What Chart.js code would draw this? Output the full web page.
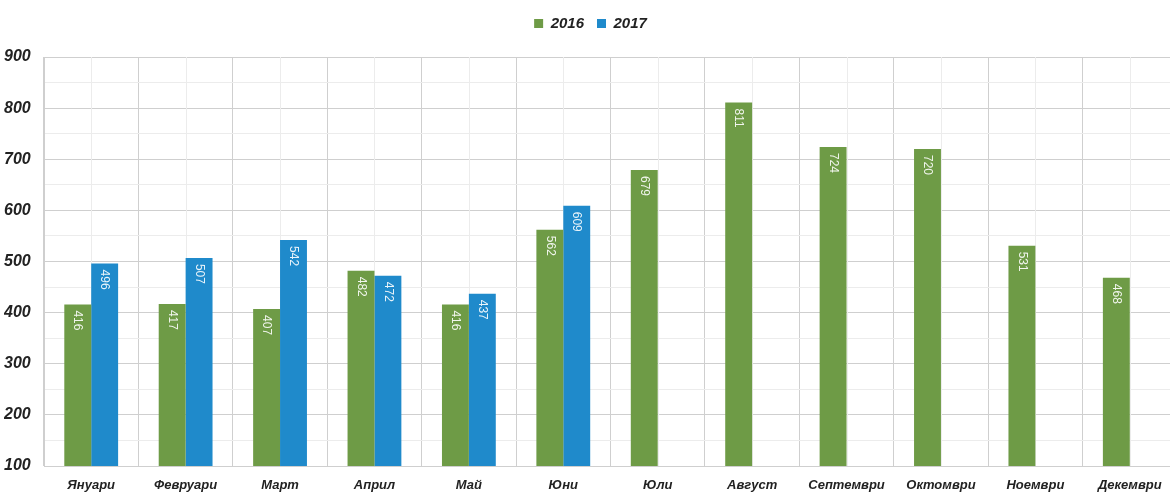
<!DOCTYPE html>
<html>
<head>
<meta charset="utf-8">
<script src="https://cdn.jsdelivr.net/npm/chart.js@4.4.1/dist/chart.umd.min.js"></script>
<style>
    html, body { margin: 0; padding: 0; background: #fff; overflow: hidden; }
    #wrap { width: 1177px; height: 497px; }
</style>
</head>
<body>
<div id="wrap"><canvas id="chart"></canvas></div>
<script>
// Monthly values
const months = ['Януари', 'Февруари', 'Март', 'Април', 'Май', 'Юни', 'Юли', 'Август', 'Септември', 'Октомври', 'Ноември', 'Декември'];
const values2016 = [416, 417, 407, 482, 416, 562, 679, 811, 724, 720, 531, 468];
const values2017 = [496, 507, 542, 472, 437, 609, null, null, null, null, null, null];
const seriesNames = ['2016', '2017'];

const GREEN = '#6e9b46';
const BLUE = '#1f8acb';
const FONT = '"Liberation Sans", Arial, sans-serif';

// extra gap under the legend so the plot starts lower
const legendGap = {
    id: 'legendGap',
    beforeLayout(chart) {
        const lg = chart.legend;
        if (!lg || lg._gapPatched) return;
        const fit = lg.fit;
        lg.fit = function() {
            fit.call(this);
            this.height += 16;
        };
        lg._gapPatched = true;
    }
};

// faint sheet lines through the middle of each month
const midLines = {
    id: 'midLines',
    beforeDatasetsDraw(chart) {
        const ctx = chart.ctx;
        const x = chart.scales.x;
        const area = chart.chartArea;
        ctx.save();
        ctx.strokeStyle = '#ececec';
        ctx.lineWidth = 1;
        months.forEach((m, i) => {
            const px = Math.round(x.getPixelForValue(i)) + 0.5;
            ctx.beginPath();
            ctx.moveTo(px, area.top);
            ctx.lineTo(px, area.bottom);
            ctx.stroke();
        });
        ctx.restore();
    }
};

// vertical value labels inside the top of each bar
const barLabels = {
    id: 'barLabels',
    afterDatasetsDraw(chart) {
        const ctx = chart.ctx;
        chart.data.datasets.forEach((ds, di) => {
            const meta = chart.getDatasetMeta(di);
            meta.data.forEach((el, i) => {
                const v = ds.data[i];
                if (v === null || v === undefined) return;
                ctx.save();
                ctx.translate(el.x, el.y + 6);
                ctx.rotate(Math.PI / 2);
                ctx.font = '12px ' + FONT;
                ctx.fillStyle = 'rgba(255, 255, 255, 0.9)';
                ctx.textAlign = 'left';
                ctx.textBaseline = 'middle';
                ctx.fillText(String(v), 0, 0);
                ctx.restore();
            });
        });
    }
};

new Chart(document.getElementById('chart'), {
    type: 'bar',
    data: {
        labels: months,
        datasets: [
            { label: seriesNames[0], data: values2016, backgroundColor: GREEN },
            { label: seriesNames[1], data: values2017, backgroundColor: BLUE }
        ]
    },
    options: {
        responsive: true,
        maintainAspectRatio: false,
        animation: false,
        datasets: { bar: { categoryPercentage: 0.57, barPercentage: 1.0 } },
        layout: { padding: { top: 3, right: 0, left: 4, bottom: 0 } },
        plugins: {
            legend: {
                position: 'top',
                align: 'center',
                labels: {
                    boxWidth: 9,
                    boxHeight: 9,
                    padding: 13,
                    color: '#222',
                    font: { family: FONT, size: 15, weight: 'bold', style: 'italic' }
                }
            },
            tooltip: { enabled: false }
        },
        scales: {
            x: {
                type: 'category',
                grid: { display: true, offset: true, drawTicks: false, color: '#cfcfcf' },
                border: { display: false },
                ticks: {
                    color: '#222',
                    padding: 12,
                    maxRotation: 0,
                    autoSkip: false,
                    font: { family: FONT, size: 13, weight: 'bold', style: 'italic' }
                },
                afterFit(scale) { scale.height = 31; }
            },
            y: {
                min: 100,
                max: 900,
                border: { display: true, color: '#cfcfcf' },
                grid: {
                    drawTicks: false,
                    color: (c) => (c.tick && c.tick.value % 100 !== 0 ? '#ececec' : '#cfcfcf')
                },
                ticks: {
                    stepSize: 50,
                    crossAlign: 'far',
                    padding: 8,
                    color: '#222',
                    font: { family: FONT, size: 16, weight: 'bold', style: 'italic' },
                    callback: (v) => (v % 100 === 0 ? v : '')
                },
                afterFit(scale) { scale.width = 40; }
            }
        }
    },
    plugins: [legendGap, midLines, barLabels]
});
</script>
</body>
</html>
